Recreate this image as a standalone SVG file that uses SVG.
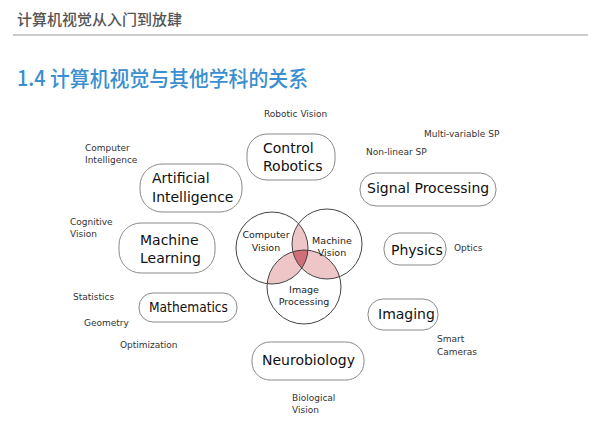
<svg xmlns="http://www.w3.org/2000/svg" width="600" height="438" viewBox="0 0 600 438">
<style>
.hdr{font-family:"Noto Sans CJK SC","Noto Sans",sans-serif;font-size:15px;fill:#555;font-weight:500}
.ttl{font-family:"Noto Sans CJK SC","Noto Sans",sans-serif;font-size:21px;fill:#3a8fd0;font-weight:500}
.box{fill:#fff;stroke:#8a8a8a;stroke-width:1}
.lbl{font-family:"DejaVu Sans",sans-serif;font-size:14px;fill:#111}
.sm{font-family:"DejaVu Sans",sans-serif;font-size:9px;fill:#333}
.cl{font-family:"DejaVu Sans",sans-serif;font-size:9.5px;fill:#222;text-anchor:middle}
.cir{fill:none;stroke:#444;stroke-width:1}
</style>
<defs>
<clipPath id="cA"><circle cx="272" cy="248" r="36"/></clipPath>
<clipPath id="cB"><circle cx="327" cy="244" r="35"/></clipPath>
<clipPath id="cC"><circle cx="304" cy="287" r="37"/></clipPath>
</defs>
<rect width="600" height="438" fill="#fff"/>
<text class="hdr" x="17" y="25">计算机视觉从入门到放肆</text>
<line x1="13" y1="35" x2="588" y2="35" stroke="#999" stroke-width="1"/>
<text class="ttl" x="17" y="86" textLength="291" lengthAdjust="spacingAndGlyphs">1.4 计算机视觉与其他学科的关系</text>

<g id="labels">
<text class="sm" x="264" y="117">Robotic Vision</text>
<text class="sm" x="85" y="151">Computer</text>
<text class="sm" x="85" y="163">Intelligence</text>
<text class="sm" x="424" y="137">Multi-variable SP</text>
<text class="sm" x="366" y="155">Non-linear SP</text>
<text class="sm" x="70" y="225">Cognitive</text>
<text class="sm" x="70" y="237">Vision</text>
<text class="sm" x="454" y="251">Optics</text>
<text class="sm" x="73" y="300">Statistics</text>
<text class="sm" x="84" y="326">Geometry</text>
<text class="sm" x="120" y="348">Optimization</text>
<text class="sm" x="437" y="342">Smart</text>
<text class="sm" x="437" y="355">Cameras</text>
<text class="sm" x="292" y="401">Biological</text>
<text class="sm" x="292" y="413">Vision</text>
</g>

<g id="control-robotics">
<rect class="box" x="247" y="134" width="88" height="46" rx="20"/>
<text class="lbl" x="263" y="153">Control</text>
<text class="lbl" x="263" y="171">Robotics</text>
</g>
<g id="artificial-intelligence">
<rect class="box" x="140" y="164" width="102" height="48" rx="22"/>
<text class="lbl" x="152" y="183">Artificial</text>
<text class="lbl" x="152" y="202">Intelligence</text>
</g>
<g id="signal-processing">
<rect class="box" x="360" y="173" width="136" height="33" rx="16"/>
<text class="lbl" x="367" y="193">Signal Processing</text>
</g>
<g id="machine-learning">
<rect class="box" x="119" y="223" width="96" height="50" rx="22"/>
<text class="lbl" x="140" y="245">Machine</text>
<text class="lbl" x="140" y="263">Learning</text>
</g>
<g id="physics">
<rect class="box" x="384" y="233" width="62" height="32" rx="15"/>
<text class="lbl" x="391" y="255">Physics</text>
</g>
<g id="mathematics">
<rect class="box" x="139" y="293" width="98" height="29" rx="14"/>
<text class="lbl" x="149" y="312" font-size="15" textLength="79" lengthAdjust="spacingAndGlyphs">Mathematics</text>
</g>
<g id="imaging">
<rect class="box" x="368" y="299" width="70" height="31" rx="15"/>
<text class="lbl" x="378" y="319">Imaging</text>
</g>
<g id="neurobiology">
<rect class="box" x="252" y="342" width="112" height="38" rx="18"/>
<text class="lbl" x="262" y="365">Neurobiology</text>
</g>

<g id="venn">
<g clip-path="url(#cA)"><circle cx="327" cy="244" r="35" fill="#efc6c8"/><circle cx="304" cy="287" r="37" fill="#efc6c8"/></g>
<g clip-path="url(#cB)"><circle cx="304" cy="287" r="37" fill="#efc6c8"/></g>
<g clip-path="url(#cA)"><g clip-path="url(#cB)"><circle cx="304" cy="287" r="37" fill="#cf6f77"/></g></g>
<circle class="cir" cx="272" cy="248" r="36"/>
<circle class="cir" cx="327" cy="244" r="35"/>
<circle class="cir" cx="304" cy="287" r="37"/>
<g id="computer-vision"><text class="cl" x="266" y="238">Computer</text><text class="cl" x="266" y="251">Vision</text></g>
<g id="machine-vision"><text class="cl" x="332" y="244">Machine</text><text class="cl" x="332" y="256">Vision</text></g>
<g id="image-processing"><text class="cl" x="304" y="293">Image</text><text class="cl" x="304" y="305">Processing</text></g>
</g>
</svg>
